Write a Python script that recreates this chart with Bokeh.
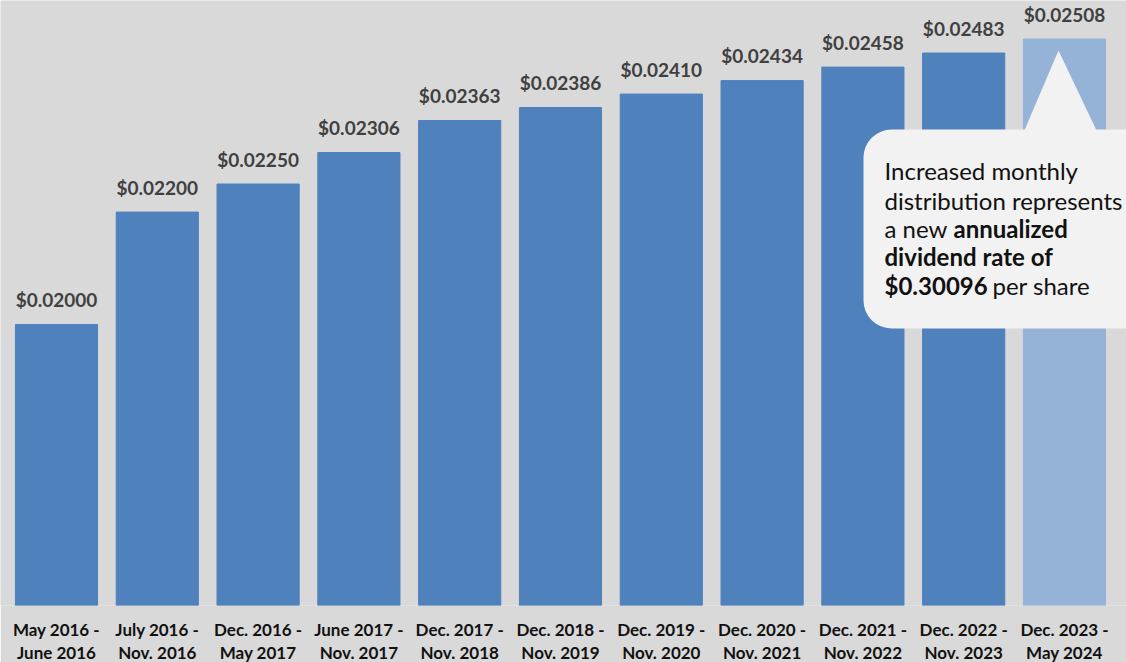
from bokeh.plotting import figure
from bokeh.models import ColumnDataSource, Range1d, FixedTicker, BoxAnnotation, PolyAnnotation, Label
from bokeh.core.properties import value
from bokeh.embed import file_html
from bokeh.resources import INLINE

periods = [
    "May 2016 -\nJune 2016", "July 2016 -\nNov. 2016", "Dec. 2016 -\nMay 2017",
    "June 2017 -\nNov. 2017", "Dec. 2017 -\nNov. 2018", "Dec. 2018 -\nNov. 2019",
    "Dec. 2019 -\nNov. 2020", "Dec. 2020 -\nNov. 2021", "Dec. 2021 -\nNov. 2022",
    "Dec. 2022 -\nNov. 2023", "Dec. 2023 -\nMay 2024",
]
distributions = [0.02000, 0.02200, 0.02250, 0.02306, 0.02363, 0.02386,
                 0.02410, 0.02434, 0.02458, 0.02483, 0.02508]

n = len(periods)
BG = "#d9d9d9"
FRAME_W, FRAME_H = 1126, 605
PX_PER_X = 100.8
X0 = -56 / PX_PER_X
Y0 = 0.015
PX_PER_Y = 56200.0
Y1 = Y0 + FRAME_H / PX_PER_Y

def dx(px):
    return X0 + px / PX_PER_X

def dy(py):
    return Y1 - py / PX_PER_Y

src = ColumnDataSource(dict(
    x=list(range(n)),
    top=distributions,
    label=["$%.5f" % v for v in distributions],
    color=["#4f81bd"] * (n - 1) + ["#95b3d7"],
))

p = figure(frame_width=FRAME_W, frame_height=FRAME_H, output_backend="svg",
           toolbar_location=None, x_range=Range1d(X0, X0 + FRAME_W / PX_PER_X),
           y_range=Range1d(Y0, Y1), min_border=0)
p.background_fill_color = BG
p.border_fill_color = BG
p.outline_line_color = None
p.grid.visible = False
p.yaxis.visible = False

p.vbar(x="x", top="top", bottom=Y0, width=0.815, color="color", source=src)
p.text(x="x", y="top", text="label", source=src, text_align="center",
       text_baseline="alphabetic", y_offset=-25, text_font=value("Lato"),
       text_font_style="bold", text_font_size="19px", text_color="#404040")

ax = p.xaxis[0]
ax.ticker = FixedTicker(ticks=list(range(n)))
ax.major_label_overrides = {i: periods[i] for i in range(n)}
ax.axis_line_color = None
ax.major_tick_line_color = None
ax.minor_tick_line_color = None
ax.major_tick_out = 0
ax.major_label_standoff = 13
ax.major_label_text_font = "Lato"
ax.major_label_text_font_style = "bold"
ax.major_label_text_font_size = "17px"
ax.major_label_text_color = "#111111"
ax.major_label_text_line_height = 1.12

# callout
CALL = "#f2f2f2"
p.add_layout(PolyAnnotation(xs=[dx(1058), dx(1023), dx(1097)], ys=[dy(50), dy(132), dy(132)],
                            fill_color=CALL, fill_alpha=1, line_color=None))
p.add_layout(BoxAnnotation(left=dx(863), right=dx(1160), top=dy(129), bottom=dy(328),
                           fill_color=CALL, fill_alpha=1, line_color=None, border_radius=28))

SHIFT = -9

def lab(px, py, text, bold=False):
    p.add_layout(Label(x=dx(px), y=dy(py + SHIFT), text=text, text_font="Lato",
                       text_font_style="bold" if bold else "normal",
                       text_font_size="24px", text_color="#111111",
                       text_baseline="alphabetic", text_align="left"))

lab(884, 179, "Increased monthly")
lab(884, 209, "distribution represents")
lab(884, 237, "a new")
lab(953, 237, "annualized", True)
lab(884, 265, "dividend rate of", True)
lab(884, 294, "$0.30096", True)
lab(992, 294, "per share")

open("out.html", "w").write(file_html(p, INLINE))
